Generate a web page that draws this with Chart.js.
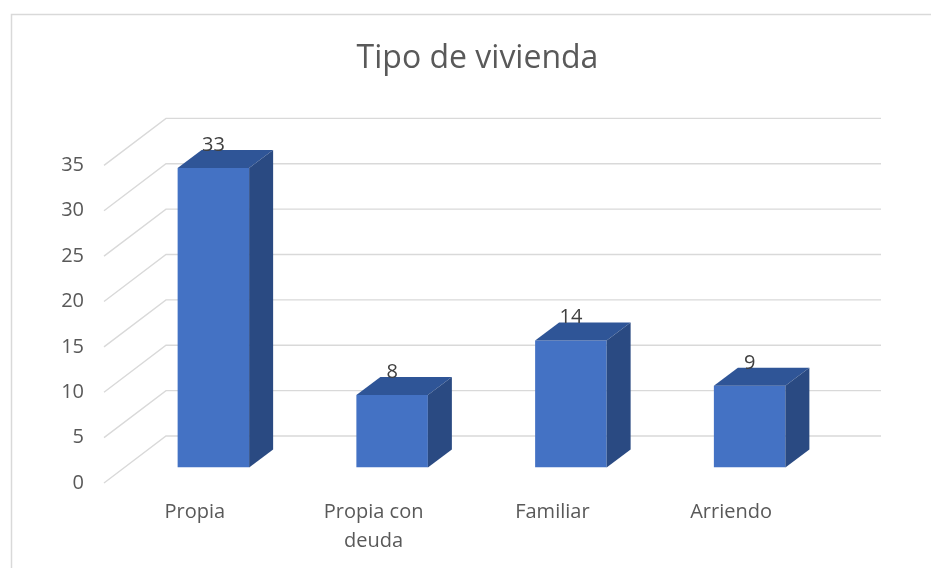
<!DOCTYPE html>
<html>
<head>
<meta charset="utf-8">
<title>Tipo de vivienda</title>
<script src="https://cdn.jsdelivr.net/npm/chart.js@4.4.1/dist/chart.umd.min.js"></script>
<style>
  html, body { margin: 0; padding: 0; background: #fff; }
  canvas { display: block; }
</style>
</head>
<body>
<canvas id="bar_chart1" width="931" height="568"></canvas>
<script>
var categories = ['Propia', ['Propia con', 'deuda'], 'Familiar', 'Arriendo'];
var counts = [33, 8, 14, 9];
var yMax = 35;
var yStep = 5;

var FONT = '"Open Sans", sans-serif';
var FRONT = '#4472C4', TOP = '#2F5597', SIDE = '#2A4A82';
var GRID = '#d9d9d9';
// fake 3d offsets in px
var DEPTH = { x: 24, y: -18 };     // depth of each box
var WALL = { x: 42, y: -31.5 };    // back wall, relative to bar front
var FLOOR = { x: -20, y: 15.5 };   // front edge, where the axis labels sit

var box3d = {
    id: 'box3d',
    beforeDraw: function (chart) {
        var ctx = chart.ctx;
        ctx.save();
        ctx.strokeStyle = GRID;
        ctx.lineWidth = 1.5;
        ctx.beginPath();
        ctx.moveTo(11.5, 568);
        ctx.lineTo(11.5, 14.5);
        ctx.lineTo(931, 14.5);
        ctx.stroke();
        ctx.restore();
    },
    beforeDatasetsDraw: function (chart) {
        var ctx = chart.ctx, area = chart.chartArea, y = chart.scales.y;
        ctx.save();
        ctx.strokeStyle = GRID;
        ctx.lineWidth = 1.4;
        for (var v = 0; v <= yMax; v += yStep) {
            var py = y.getPixelForValue(v);
            ctx.beginPath();
            ctx.moveTo(area.left + FLOOR.x, py + FLOOR.y);
            ctx.lineTo(area.left + WALL.x, py + WALL.y);
            ctx.lineTo(area.right + WALL.x, py + WALL.y);
            ctx.stroke();
        }
        ctx.restore();
    },
    afterDatasetsDraw: function (chart) {
        var ctx = chart.ctx;
        var meta = chart.getDatasetMeta(0);
        ctx.save();
        meta.data.forEach(function (bar, i) {
            var l = bar.x - bar.width / 2, r = bar.x + bar.width / 2;
            var t = bar.y, b = bar.base;
            // top
            ctx.fillStyle = TOP;
            ctx.beginPath();
            ctx.moveTo(l, t);
            ctx.lineTo(r, t);
            ctx.lineTo(r + DEPTH.x, t + DEPTH.y);
            ctx.lineTo(l + DEPTH.x, t + DEPTH.y);
            ctx.closePath();
            ctx.fill();
            // side
            ctx.fillStyle = SIDE;
            ctx.beginPath();
            ctx.moveTo(r, t);
            ctx.lineTo(r + DEPTH.x, t + DEPTH.y);
            ctx.lineTo(r + DEPTH.x, b + DEPTH.y);
            ctx.lineTo(r, b);
            ctx.closePath();
            ctx.fill();
            // value
            ctx.fillStyle = '#404040';
            ctx.font = '20px ' + FONT;
            ctx.textAlign = 'center';
            ctx.textBaseline = 'alphabetic';
            ctx.fillText(String(counts[i]), bar.x, t - 17);
        });
        ctx.restore();
    }
};

Chart.defaults.font.family = FONT;

new Chart(document.getElementById('bar_chart1').getContext('2d'), {
    type: 'bar',
    data: {
        labels: categories,
        datasets: [{
            label: 'Tipo de vivienda',
            data: counts,
            backgroundColor: FRONT,
            borderWidth: 0,
            categoryPercentage: 1,
            barPercentage: 0.4
        }]
    },
    options: {
        responsive: false,
        animation: false,
        // left padding 24 + right spacer axis keeps the title centred like the original
        layout: { padding: { left: 24, right: 0, top: 20, bottom: 0 } },
        plugins: {
            legend: { display: false },
            tooltip: { enabled: false },
            title: {
                display: true,
                text: 'Tipo de vivienda',
                color: '#595959',
                font: { size: 32, weight: 'normal' },
                padding: { top: 20, bottom: 71.5 }
            }
        },
        scales: {
            x: {
                grid: { display: false, drawTicks: false },
                border: { display: false },
                ticks: {
                    color: '#595959',
                    font: { size: 20, lineHeight: 1.42 },
                    padding: 31,
                    labelOffset: -18.5,
                    maxRotation: 0
                },
                afterFit: function (scale) { scale.height = 100.5; }
            },
            y: {
                min: 0,
                max: yMax,
                ticks: {
                    stepSize: yStep,
                    color: '#595959',
                    font: { size: 20 },
                    padding: 40,
                    labelOffset: 15.5
                },
                grid: { display: false, drawTicks: false },
                border: { display: false },
                afterFit: function (scale) { scale.width = 100; }
            },
            spacer: {
                type: 'linear',
                position: 'right',
                grid: { display: false, drawTicks: false },
                border: { display: false },
                ticks: { display: false },
                afterFit: function (scale) { scale.width = 92; }
            }
        }
    },
    plugins: [box3d]
});
</script>
</body>
</html>
